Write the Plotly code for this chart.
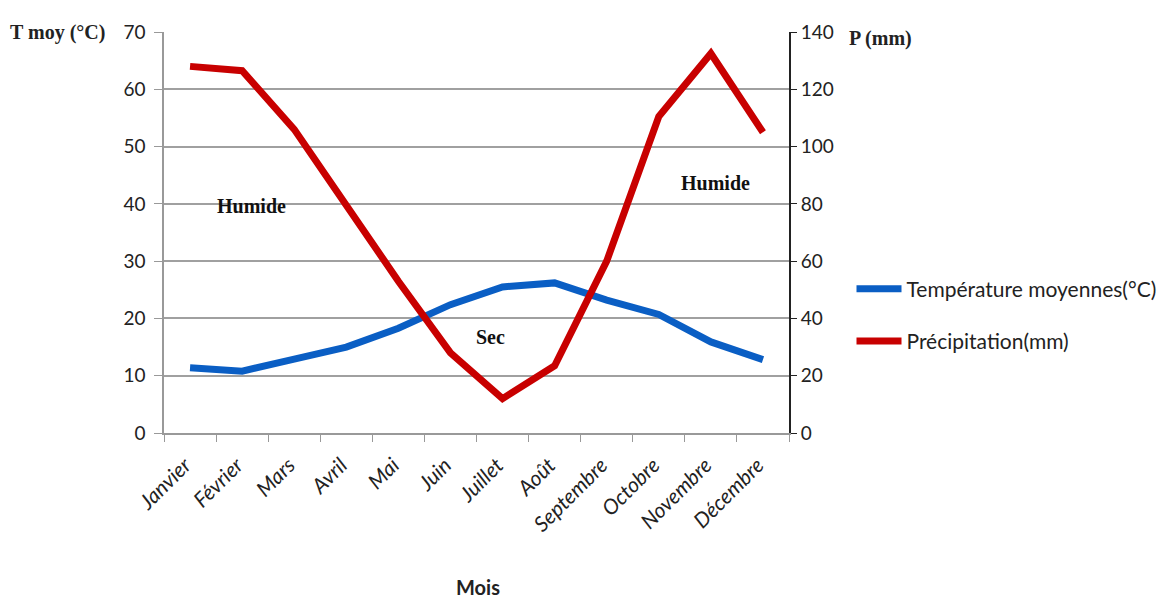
import plotly.graph_objects as go

mois = ["Janvier", "Février", "Mars", "Avril", "Mai", "Juin", "Juillet", "Août",
        "Septembre", "Octobre", "Novembre", "Décembre"]
temperature = [11.4, 10.8, 12.9, 15.0, 18.3, 22.4, 25.5, 26.2, 23.2, 20.7, 15.9, 12.8]
precipitation = [128, 126.5, 106, 79, 53, 28, 12, 23.5, 60, 110.5, 132.5, 105]
left_ticks = [0, 10, 20, 30, 40, 50, 60, 70]
right_ticks = [0, 20, 40, 60, 80, 100, 120, 140]

sans = "Lato, 'Noto Sans', sans-serif"
serif = "'Liberation Serif', 'DejaVu Serif', serif"

idx = list(range(len(mois)))
label_pos = [i - 0.1 for i in idx]
boundaries = [i - 0.5 for i in range(len(mois) + 1)]

fig = go.Figure()
fig.add_trace(go.Scatter(x=idx, y=temperature, mode="lines",
                         name="Température moyennes(°C)", legendgroup="t",
                         line=dict(color="#0a5ec4", width=7)))
fig.add_trace(go.Scatter(x=idx, y=precipitation, mode="lines",
                         name="Précipitation(mm)", yaxis="y2", legendgroup="p",
                         line=dict(color="#c80000", width=7)))

fig.update_layout(
    width=1165, height=591,
    margin=dict(l=156, r=383, t=13, b=166),
    paper_bgcolor="white", plot_bgcolor="white",
    font=dict(family=sans, color="#222", size=16),
    xaxis=dict(
        range=[-0.5, 11.5], tickvals=label_pos, ticktext=mois, ticks="",
        ticklabelstandoff=10,
        minor=dict(tickvals=boundaries, ticks="outside", ticklen=7,
                   tickcolor="#999", showgrid=False),
        showline=True, linecolor="#999", linewidth=1.5,
        showgrid=False, tickangle=-45, zeroline=False,
        tickfont=dict(family=sans, size=21, style="italic", color="#222"),
    ),
    yaxis=dict(
        range=[0, 70], tickvals=left_ticks, showgrid=True, gridcolor="#a0a0a0",
        gridwidth=1.5, showline=True, linecolor="#999", linewidth=1.5,
        ticks="outside", ticklen=8, tickcolor="#999", ticklabelstandoff=5,
        tickfont=dict(family=sans, size=19, color="#222"), zeroline=False,
    ),
    yaxis2=dict(
        range=[0, 140], tickvals=right_ticks, overlaying="y", side="right",
        showgrid=False, showline=True, linecolor="#222", linewidth=2,
        ticks="outside", ticklen=6, tickcolor="#222",
        tickfont=dict(family=sans, size=19, color="#222"), zeroline=False,
    ),
    legend=dict(x=1.1, y=0.41, xanchor="left", yanchor="top",
                font=dict(family=sans, size=21, color="#222"),
                tracegroupgap=22, itemwidth=45, bgcolor="rgba(0,0,0,0)"),
    showlegend=True,
)

ann = [
    dict(text="<b>T moy (°C)</b>", x=-0.171, y=0.998, font=dict(family=serif, size=20, color="#222")),
    dict(text="<b>P (mm)</b>", x=1.146, y=0.983, font=dict(family=serif, size=20, color="#222")),
    dict(text="<b>Humide</b>", x=0.14, y=0.566, font=dict(family=serif, size=20, color="#111")),
    dict(text="<b>Humide</b>", x=0.882, y=0.624, font=dict(family=serif, size=20, color="#111")),
    dict(text="<b>Sec</b>", x=0.522, y=0.24, font=dict(family=serif, size=20, color="#111")),
    dict(text="<b>Mois</b>", x=0.503, y=-0.385, font=dict(family=sans, size=20, color="#222")),
]
for a in ann:
    fig.add_annotation(xref="paper", yref="paper", showarrow=False,
                       xanchor="center", yanchor="middle", **a)

fig.write_html("out.html")
